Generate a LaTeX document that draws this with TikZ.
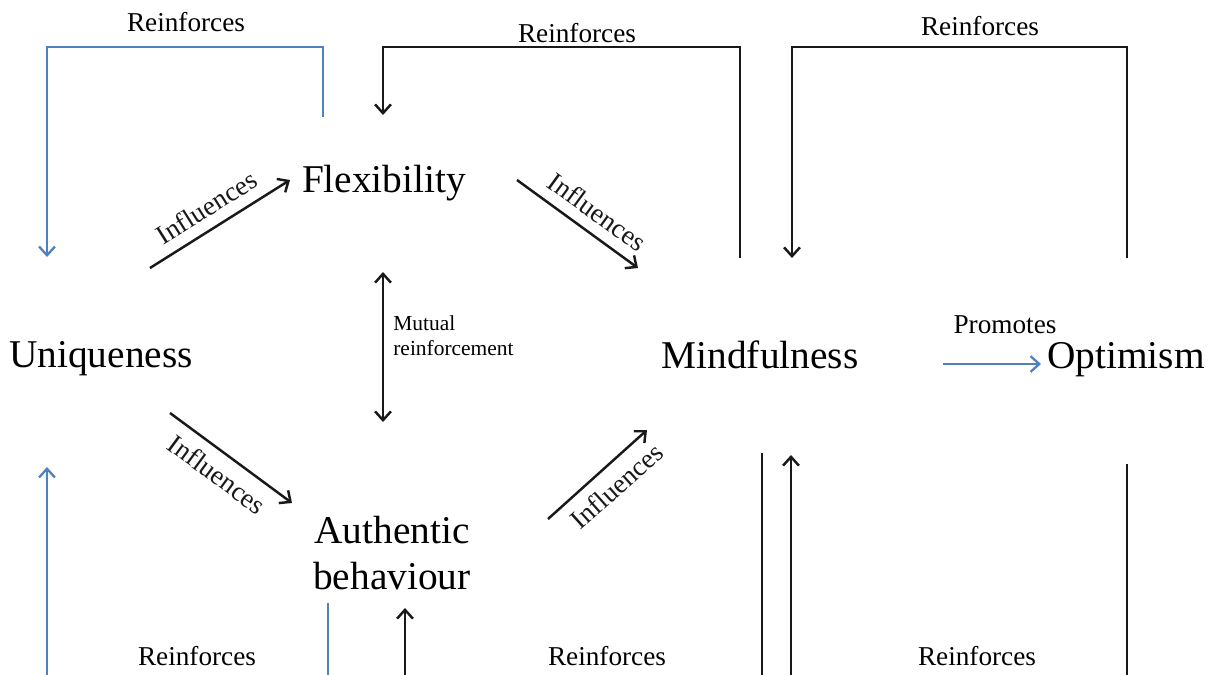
\documentclass[tikz,border=0pt]{standalone}
\usepackage{fontspec}
\setmainfont{Liberation Serif}
\usetikzlibrary{arrows.meta}
\definecolor{linkblue}{RGB}{79,129,189}
\begin{document}
\begin{tikzpicture}[x=0.02cm,y=-0.02cm,
  concept/.style={font=\fontsize{22.4}{26.6}\selectfont, inner sep=0pt},
  lbl/.style={font=\fontsize{15.5}{18}\selectfont, inner sep=0pt},
  slopelbl/.style={font=\fontsize{15.5}{18}\selectfont, inner sep=6pt, sloped},
  smalllbl/.style={font=\fontsize{12.2}{14.2}\selectfont, inner sep=0pt, align=left},
  tipend/.style={-{Straight Barb[length=5pt,width=9pt]}},
  tipboth/.style={{Straight Barb[length=5pt,width=9pt]}-{Straight Barb[length=5pt,width=9pt]}},
  blackline/.style={line width=1.4pt, black!90},
  blueline/.style={line width=1.3pt, linkblue},
]
\clip (0,0) rectangle (1215,674);
\fill[white] (0,0) rectangle (1215,674);

% concepts
\node[concept, anchor=base] (uniq) at (101,367) {Uniqueness};
\node[concept, anchor=base] (flex) at (384,192) {Flexibility};
\node[concept, anchor=base] (mind) at (760,368) {Mindfulness};
\node[concept, anchor=base] (opt)  at (1126,368) {Optimism};
\node[concept, anchor=center, align=center] (auth) at (392,553) {Authentic\\behaviour};

% end points of the influence arrows
\coordinate (uf1) at (150,268);  \coordinate (uf2) at (290,180);
\coordinate (fm1) at (517,180);  \coordinate (fm2) at (638,268);
\coordinate (ua1) at (170,413);  \coordinate (ua2) at (292,503);
\coordinate (am1) at (548,519);  \coordinate (am2) at (647,430);

\draw[blackline, tipend] (uf1) -- node[slopelbl, above, pos=0.485] {Influences} (uf2);
\draw[blackline, tipend] (fm1) -- node[slopelbl, above, pos=0.56] {Influences} (fm2);
\draw[blackline, tipend] (ua1) -- node[slopelbl, below, pos=0.49] {Influences} (ua2);
\draw[blackline, tipend] (am1) -- node[slopelbl, below, pos=0.55] {Influences} (am2);

% mutual reinforcement
\coordinate (mu1) at (383,272);  \coordinate (mu2) at (383,422);
\draw[blackline, tipboth] (mu1) -- (mu2);
\node[smalllbl, anchor=base west] (mutual) at (393,355) {Mutual\\reinforcement};

% promotes
\coordinate (po1) at (943,364);  \coordinate (po2) at (1041,364);
\draw[blueline, tipend] (po1) -- (po2);
\node[lbl, anchor=base] (prom) at (1005,333) {Promotes};

% top feedback loops
\coordinate (l1s) at (323,117);  \coordinate (l1a) at (323,47);
\coordinate (l1b) at (47,47);    \coordinate (l1e) at (47,257);
\draw[blueline, tipend] (l1s) -- (l1a) -- (l1b) -- (l1e);
\node[lbl, anchor=base] (r1) at (186,31) {Reinforces};

\coordinate (l2s) at (740,258);  \coordinate (l2a) at (740,47);
\coordinate (l2b) at (383,47);   \coordinate (l2e) at (383,115);
\draw[blackline, tipend] (l2s) -- (l2a) -- (l2b) -- (l2e);
\node[lbl, anchor=base] (r2) at (577,42) {Reinforces};

\coordinate (l3s) at (1127,258); \coordinate (l3a) at (1127,47);
\coordinate (l3b) at (792,47);   \coordinate (l3e) at (792,258);
\draw[blackline, tipend] (l3s) -- (l3a) -- (l3b) -- (l3e);
\node[lbl, anchor=base] (r3) at (980,35) {Reinforces};

% bottom feedback loops (their lower runs lie below the frame)
\coordinate (l4s) at (328,603);  \coordinate (l4a) at (328,690);
\coordinate (l4b) at (47,690);   \coordinate (l4e) at (47,467);
\draw[blueline, tipend] (l4s) -- (l4a) -- (l4b) -- (l4e);
\node[lbl, anchor=base] (r4) at (197,665) {Reinforces};

\coordinate (l5s) at (762,453);  \coordinate (l5a) at (762,690);
\coordinate (l5b) at (405,690);  \coordinate (l5e) at (405,608);
\draw[blackline, tipend] (l5s) -- (l5a) -- (l5b) -- (l5e);
\node[lbl, anchor=base] (r5) at (607,665) {Reinforces};

\coordinate (l6s) at (1127,464); \coordinate (l6a) at (1127,690);
\coordinate (l6b) at (791,690);  \coordinate (l6e) at (791,455);
\draw[blackline, tipend] (l6s) -- (l6a) -- (l6b) -- (l6e);
\node[lbl, anchor=base] (r6) at (977,665) {Reinforces};
\end{tikzpicture}
\end{document}
